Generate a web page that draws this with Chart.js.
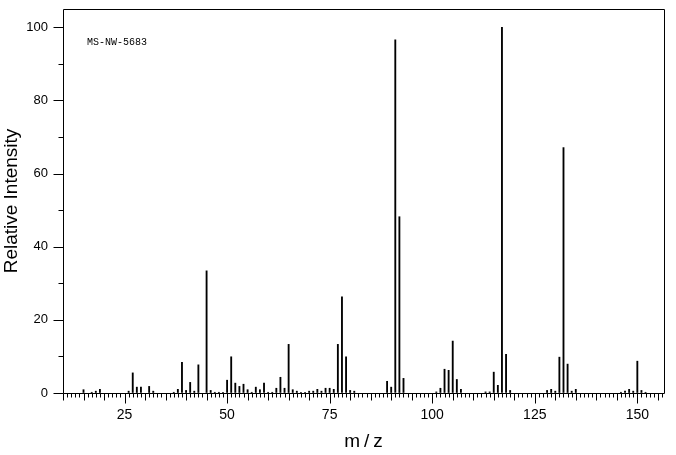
<!DOCTYPE html>
<html><head><meta charset="utf-8">
<script src="https://cdn.jsdelivr.net/npm/chart.js@4/dist/chart.umd.min.js"></script>
<style>html,body{margin:0;padding:0;background:#fff}canvas{display:block}</style>
</head><body>
<canvas id="c" width="676" height="455"></canvas>
<script>
// m/z positions of peaks
const mzValues = [15,17,18,19,26,27,28,29,31,32,37,38,39,40,41,42,43,45,46,47,48,49,50,51,52,53,54,55,56,57,58,59,60,61,62,63,64,65,66,67,68,69,70,71,72,73,74,75,76,77,78,79,80,81,89,90,91,92,93,101,102,103,104,105,106,107,113,114,115,116,117,118,119,128,129,130,131,132,133,134,135,146,147,148,149,150,151,152];
// relative intensities (%)
const intensities = [0.9,0.2,0.5,1.0,0.5,5.5,1.6,1.6,1.8,0.5,0.2,1.0,8.4,0.7,2.9,0.5,7.7,33.4,0.7,0.2,0.2,0.2,3.5,9.9,2.7,1.8,2.4,0.9,0.2,1.6,0.9,2.7,0.2,0.2,1.3,4.3,1.3,13.3,0.9,0.5,0.2,0.2,0.5,0.5,1.0,0.5,1.3,1.3,1.0,13.3,26.3,9.9,0.7,0.5,3.2,1.6,96.6,48.2,4.0,0.3,1.3,6.5,6.2,14.2,3.7,1.0,0.3,0.3,5.7,2.1,100,10.6,0.7,0.7,1.0,0.5,9.8,67.1,7.9,0.5,1.0,0.2,0.5,1.0,0.5,8.7,0.7,0.2];
const xTickLabels = [25,50,75,100,125,150];
const yTickLabels = [0,20,40,60,80,100];
const sampleId = 'MS-NW-5683';
const xTitle = 'm/z';
const yTitle = 'Relative Intensity';

const FONT = '"Liberation Sans", Arial, sans-serif';

const framePlugin = {
  id: 'frame',
  afterDatasetsDraw(chart) {
    const {ctx, chartArea: a, scales: {x, y}} = chart;
    ctx.save();
    ctx.strokeStyle = '#000';
    ctx.lineWidth = 1;
    const L = Math.round(a.left) + 0.5, R = Math.round(a.right) + 0.5;
    const T = Math.round(a.top) + 0.5, B = Math.round(a.bottom) + 0.5;
    ctx.beginPath();
    ctx.rect(L, T, R - L, B - T);
    for (let v = Math.ceil(x.min); v <= x.max; v++) {
      const len = v % 25 === 0 ? 10 : (v % 5 === 0 ? 7 : 4);
      const px = Math.round(x.getPixelForValue(v)) + 0.5;
      ctx.moveTo(px, B); ctx.lineTo(px, B + len);
    }
    for (let v = 0; v <= 100; v += 10) {
      const len = v % 20 === 0 ? 10 : 5;
      const py = Math.round(y.getPixelForValue(v)) + 0.5;
      ctx.moveTo(L, py); ctx.lineTo(L - len, py);
    }
    ctx.stroke();
    ctx.fillStyle = '#000';
    ctx.font = '10px "Liberation Mono", "DejaVu Sans Mono", monospace';
    ctx.textBaseline = 'top';
    ctx.textAlign = 'left';
    ctx.fillText(sampleId, 87, 37);
    ctx.font = '19px ' + FONT;
    ctx.letterSpacing = '4px';
    ctx.textAlign = 'center';
    ctx.textBaseline = 'middle';
    ctx.fillText(xTitle, (a.left + a.right) / 2 + 2, 442);
    ctx.restore();
  }
};

function noPad(s) { s.paddingTop = 0; s.paddingBottom = 0; s.paddingLeft = 0; s.paddingRight = 0; }

new Chart(document.getElementById('c'), {
  type: 'bar',
  data: {
    datasets: [{
      data: mzValues.map((m, i) => ({x: m, y: intensities[i]})),
      backgroundColor: '#000',
      borderWidth: 0,
      barThickness: 1.2,
      grouped: false
    }]
  },
  options: {
    responsive: false,
    animation: false,
    events: [],
    layout: {padding: {top: 9, right: 12, left: 0, bottom: 0}},
    plugins: {legend: {display: false}, tooltip: {enabled: false}},
    scales: {
      x: {
        type: 'linear',
        min: 10,
        max: 156.5,
        offset: false,
        afterBuildTicks: s => { s.ticks = xTickLabels.map(v => ({value: v})); },
        afterFit: s => { s.height = 62; noPad(s); },
        grid: {display: true, drawOnChartArea: false, drawTicks: true, tickLength: 10, tickColor: 'rgba(0,0,0,0)'},
        border: {display: false},
        ticks: {font: {family: FONT, size: 14}, color: '#000', padding: 4, maxRotation: 0, autoSkip: false},
        title: {display: false}
      },
      y: {
        min: 0,
        max: 105,
        afterBuildTicks: s => { s.ticks = yTickLabels.map(v => ({value: v})); },
        afterFit: s => { s.width = 63; noPad(s); },
        grid: {display: true, drawOnChartArea: false, drawTicks: true, tickLength: 10, tickColor: 'rgba(0,0,0,0)'},
        border: {display: false},
        ticks: {font: {family: FONT, size: 13}, color: '#000', padding: 5},
        title: {display: true, text: yTitle, color: '#000', font: {family: FONT, size: 19}, padding: {top: 0, bottom: 0}}
      }
    }
  },
  plugins: [framePlugin]
});
</script>
</body></html>
